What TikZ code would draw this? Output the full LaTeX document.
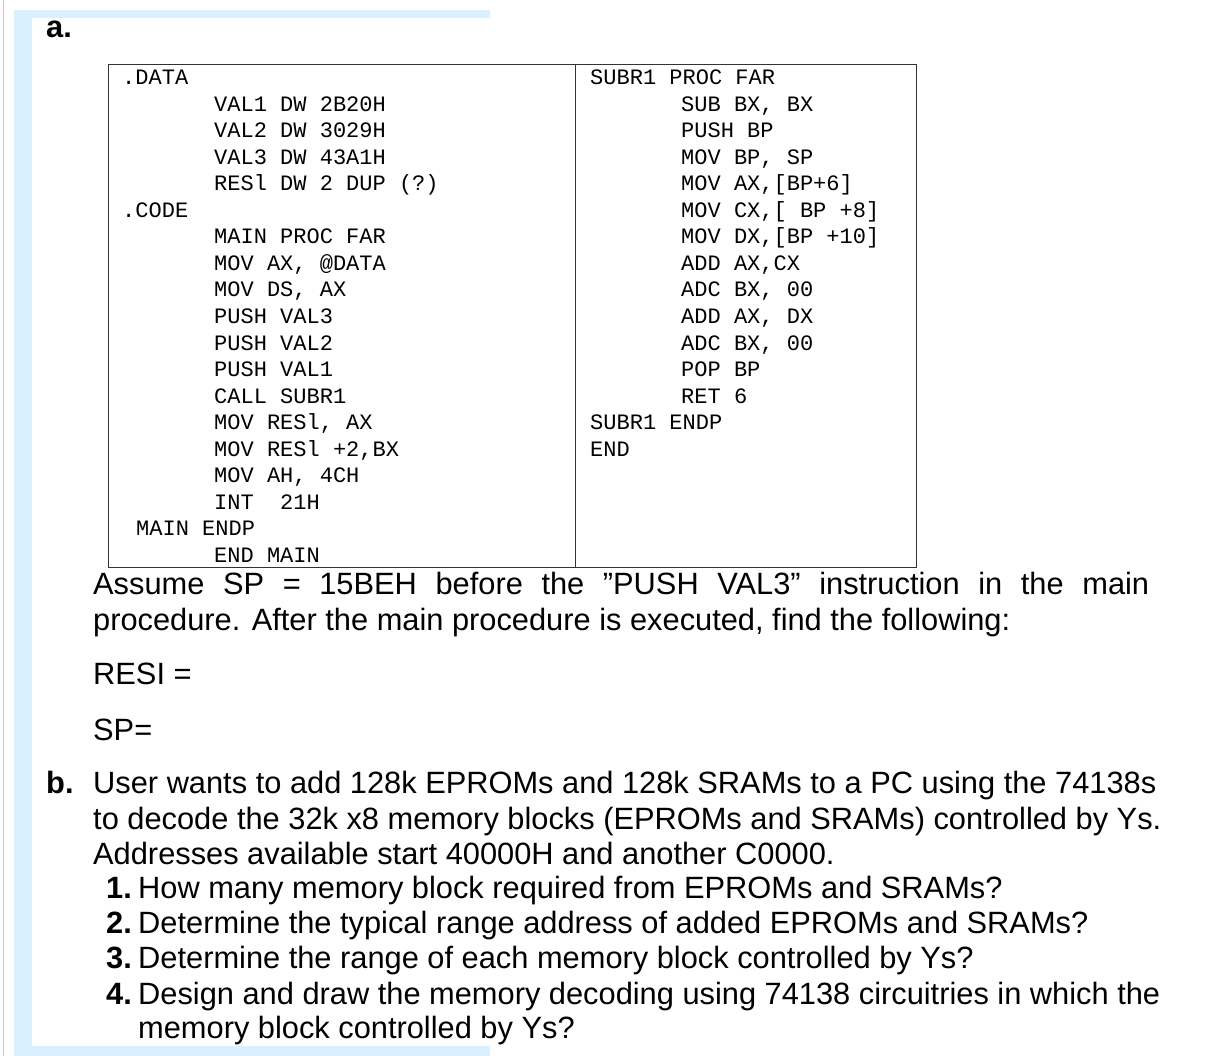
\documentclass[tikz,border=0pt]{standalone}
\usepackage{fontspec}
\setmainfont{Liberation Sans}
\newfontfamily\cmono{Liberation Mono}
\begin{document}
\begin{tikzpicture}[x=1pt,y=-1pt,
  code/.style={anchor=base west,inner sep=0pt,font=\cmono\fontsize{22}{26}\selectfont},
  txt/.style={anchor=base west,inner sep=0pt,font=\fontsize{30.8}{36}\selectfont},
  btxt/.style={txt,font=\bfseries\fontsize{30.8}{36}\selectfont},
  frame/.style={fill=blue!40!cyan!15!white,draw=none}]
\useasboundingbox (0,0) rectangle (1214,1056);
\fill[white] (0,0) rectangle (1214,1056);
\draw[gray!40] (3,0) -- (3,1056);
\fill[frame] (14,10) rectangle (490,18);
\fill[frame] (14,10) rectangle (32,1056);
\fill[frame] (14,1046) rectangle (490,1056);
\node[btxt] (la) at (46,38) {a.};
\draw[black!80,line width=0.8pt] (108,64) rectangle (916,567);
\draw[black!80,line width=0.8pt] (575,64) -- (575,567);
\foreach \t/\x/\i in {.DATA/122/0, VAL1 DW 2B20H/214/1, VAL2 DW 3029H/214/2, VAL3 DW 43A1H/214/3, RESl DW 2 DUP (?)/214/4, .CODE/122/5, MAIN PROC FAR/214/6, {MOV AX, @DATA}/214/7, {MOV DS, AX}/214/8, PUSH VAL3/214/9, PUSH VAL2/214/10, PUSH VAL1/214/11, CALL SUBR1/214/12, {MOV RESl, AX}/214/13, {MOV RESl +2,BX}/214/14, {MOV AH, 4CH}/214/15, {INT\ \ 21H}/214/16, MAIN ENDP/136/17, END MAIN/214/18}
  \node[code] (l\i) at (\x,85+26.5*\i) {\t};
\foreach \t/\x/\i in {SUBR1 PROC FAR/590/0, {SUB BX, BX}/681/1, PUSH BP/681/2, {MOV BP, SP}/681/3, {MOV AX,[BP+6]}/681/4, {MOV CX,[ BP +8]}/681/5, {MOV DX,[BP +10]}/681/6, {ADD AX,CX}/681/7, {ADC BX, 00}/681/8, {ADD AX, DX}/681/9, {ADC BX, 00}/681/10, POP BP/681/11, RET 6/681/12, SUBR1 ENDP/590/13, END/590/14}
  \node[code] (r\i) at (\x,85+26.5*\i) {\t};
\node[anchor=north west,inner sep=0pt,text width=1056pt,align=justify,font=\fontsize{30.8}{36}\selectfont] (p1) at (93,572)
  {Assume SP = 15BEH before the \symbol{34}PUSH VAL3\symbol{34} instruction in the main\linebreak procedure. After the main procedure is executed, find the following:};
\node[txt] (resi) at (93,684) {RESI =};
\node[txt] (sp) at (93,740) {SP=};
\node[btxt] (lb) at (46,793) {b.};
\node[txt] (b1) at (93,793) {User wants to add 128k EPROMs and 128k SRAMs to a PC using the 74138s};
\node[txt] (b2) at (93,829) {to decode the 32k x8 memory blocks (EPROMs and SRAMs) controlled by Ys.};
\node[txt] (b3) at (93,864) {Addresses available start 40000H and another C0000.};
\foreach \n/\t/\y in {1/How many memory block required from EPROMs and SRAMs?/898, 2/Determine the typical range address of added EPROMs and SRAMs?/933, 3/Determine the range of each memory block controlled by Ys?/968, 4/Design and draw the memory decoding using 74138 circuitries in which the/1004}{
  \node[btxt] (n\n) at (106,\y) {\n.};
  \node[txt] (q\n) at (138,\y) {\t};}
\node[txt] (q5) at (138,1038) {memory block controlled by Ys?};
\end{tikzpicture}
\end{document}
